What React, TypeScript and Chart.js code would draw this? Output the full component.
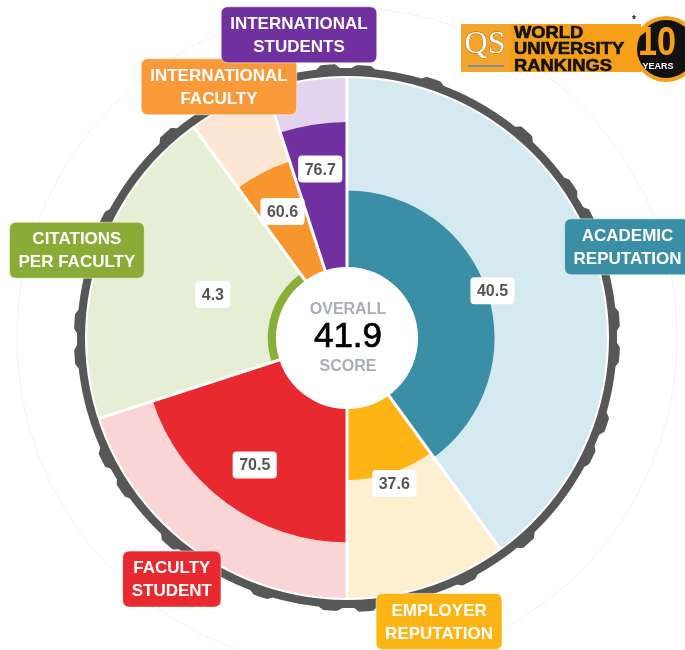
import React, { useEffect, useRef } from 'react';
import { Chart, registerables } from 'chart.js';

Chart.register(...registerables);

// ---------- data ----------
const categoryLines: string[][] = [
  ['ACADEMIC', 'REPUTATION'],
  ['EMPLOYER', 'REPUTATION'],
  ['FACULTY', 'STUDENT'],
  ['CITATIONS', 'PER FACULTY'],
  ['INTERNATIONAL', 'FACULTY'],
  ['INTERNATIONAL', 'STUDENTS'],
];
const categories = categoryLines.map((l) => l.join(' '));
const weights = [40, 10, 20, 20, 5, 5]; // percent of the full circle
const scores = [40.5, 37.6, 70.5, 4.3, 60.6, 76.7];
const fullScores = [100, 100, 100, 100, 100, 100];
const overallScore = '41.9';
const centerTop = 'OVERALL';
const centerBottom = 'SCORE';
const SCALE_MIN = -37.6; // leaves the central hole
const SCALE_MAX = 100;

// ---------- styles ----------
const darkColors = ['#3a8fa7', '#fdb515', '#e8292f', '#8aae3a', '#f7962f', '#7030a0'];
const paleColors = ['#d4eaf0', '#fdf0d0', '#f9d5d6', '#e6efd6', '#fde6d4', '#e3d3ef'];
const tagColors = ['#3a8fa7', '#fdb515', '#e8292f', '#8aab35', '#f9993a', '#7030a0'];
const TAG_DIST = [35, 38, 38, 24, 22, 47];
const VALUE_DIST = [153, 153, 157, 141, 142, 171];
const FONT = "'Liberation Sans', Arial, sans-serif";

function roundRect(ctx: CanvasRenderingContext2D, x: number, y: number, w: number, h: number, r: number) {
  ctx.beginPath();
  ctx.moveTo(x + r, y);
  ctx.lineTo(x + w - r, y);
  ctx.quadraticCurveTo(x + w, y, x + w, y + r);
  ctx.lineTo(x + w, y + h - r);
  ctx.quadraticCurveTo(x + w, y + h, x + w - r, y + h);
  ctx.lineTo(x + r, y + h);
  ctx.quadraticCurveTo(x, y + h, x, y + h - r);
  ctx.lineTo(x, y + r);
  ctx.quadraticCurveTo(x, y, x + r, y);
  ctx.closePath();
}

const BUMPS = [1, 0, 2, 1, 0, 0, 2, 0, 1, 0, 0, 2, 1, 0, 1, 0, 0, 2, 0, 1, 2, 0, 0, 1];

function drawRing(ctx: CanvasRenderingContext2D, cx: number, cy: number, R: number) {
  const rin = R + 2;
  const rout = R + 10;
  const period = 7.5;
  ctx.beginPath();
  for (let i = 0; i <= 1440; i++) {
    const deg = i * 0.25;
    const seg = Math.floor(deg / period);
    const pos = deg - seg * period;
    let r = rout;
    const b = BUMPS[seg % BUMPS.length];
    if (b) {
      const hgt = b === 2 ? 4 : 3;
      if (pos >= 2 && pos <= 5) r += hgt;
      else if (pos > 1 && pos < 2) r += hgt * (pos - 1);
      else if (pos > 5 && pos < 6) r += hgt * (6 - pos);
    }
    const a = (deg * Math.PI) / 180;
    const x = cx + r * Math.cos(a);
    const y = cy + r * Math.sin(a);
    if (i === 0) ctx.moveTo(x, y);
    else ctx.lineTo(x, y);
  }
  ctx.closePath();
  ctx.moveTo(cx + rin, cy);
  ctx.arc(cx, cy, rin, 0, Math.PI * 2, true);
  ctx.closePath();
  ctx.fillStyle = '#575757';
  ctx.fill('evenodd');
}

function drawLogo(ctx: CanvasRenderingContext2D) {
  ctx.save();
  ctx.fillStyle = '#f6a01a';
  ctx.fillRect(461, 24, 180, 48);
  ctx.fillStyle = '#f4a42a';
  ctx.fillRect(461, 24, 49, 48);
  ctx.font = `32px 'Liberation Serif', 'DejaVu Serif', serif`;
  ctx.textAlign = 'center';
  ctx.textBaseline = 'middle';
  ctx.lineWidth = 1;
  ctx.strokeStyle = '#b86a10';
  ctx.strokeText('QS', 485, 45);
  ctx.fillStyle = '#ffffff';
  ctx.fillText('QS', 485, 45);
  ctx.strokeStyle = '#7b8ea0';
  ctx.lineWidth = 2;
  ctx.beginPath();
  ctx.moveTo(468, 66);
  ctx.lineTo(504, 66);
  ctx.stroke();

  ctx.fillStyle = '#111111';
  ctx.textAlign = 'left';
  ctx.textBaseline = 'alphabetic';
  ctx.font = `bold 17px ${FONT}`;
  const lines = ['WORLD', 'UNIVERSITY', 'RANKINGS'];
  const ys = [38, 54, 71];
  lines.forEach((t, i) => {
    ctx.save();
    ctx.translate(514, ys[i]);
    ctx.scale(1.08, 1);
    ctx.fillText(t, 0, 0);
    ctx.strokeStyle = '#111111';
    ctx.lineWidth = 0.6;
    ctx.strokeText(t, 0, 0);
    ctx.restore();
  });

  // 10 years badge
  ctx.beginPath();
  ctx.arc(666, 49, 33, 0, Math.PI * 2);
  ctx.fillStyle = '#f6a01a';
  ctx.fill();
  ctx.beginPath();
  ctx.arc(666, 49, 29, 0, Math.PI * 2);
  ctx.fillStyle = '#111111';
  ctx.fill();
  ctx.textAlign = 'center';
  ctx.textBaseline = 'middle';
  ctx.font = `bold 40px ${FONT}`;
  ctx.fillStyle = '#f6a01a';
  ctx.fillText('10', 657, 44, 38);
  ctx.font = `bold 9px ${FONT}`;
  ctx.fillStyle = '#ffffff';
  ctx.fillText('YEARS', 658, 67);
  ctx.fillStyle = '#111111';
  ctx.font = `bold 10px ${FONT}`;
  ctx.fillText('*', 634, 20);
  ctx.restore();
}

const decorPlugin = {
  id: 'qsDecor',
  afterDatasetsDraw(chart: any) {
    const ctx: CanvasRenderingContext2D = chart.ctx;
    const scale = chart.scales.r;
    const cx = scale.xCenter;
    const cy = scale.yCenter;
    const R = scale.drawingArea;
    const hole = scale.getDistanceFromCenterForValue(0);
    const arcs = chart.getDatasetMeta(1).data;

    ctx.save();
    // faint outer circle
    ctx.strokeStyle = '#f2f2f2';
    ctx.lineWidth = 1;
    ctx.beginPath();
    ctx.arc(cx, cy, 330, 0, Math.PI * 2);
    ctx.stroke();

    // separators
    ctx.strokeStyle = '#ffffff';
    ctx.lineWidth = 3;
    arcs.forEach((a: any) => {
      const s = a.startAngle;
      ctx.beginPath();
      ctx.moveTo(cx, cy);
      ctx.lineTo(cx + (R + 1) * Math.cos(s), cy + (R + 1) * Math.sin(s));
      ctx.stroke();
    });

    // central hole
    ctx.fillStyle = '#ffffff';
    ctx.beginPath();
    ctx.arc(cx, cy, hole, 0, Math.PI * 2);
    ctx.fill();

    // ring
    drawRing(ctx, cx, cy, R);

    // center text
    ctx.textAlign = 'center';
    ctx.textBaseline = 'middle';
    ctx.fillStyle = '#a9aeb6';
    ctx.font = `bold 16px ${FONT}`;
    ctx.fillText(centerTop, cx + 1, cy - 28);
    ctx.fillText(centerBottom, cx + 1, cy + 29);
    ctx.fillStyle = '#000000';
    ctx.font = `35px ${FONT}`;
    ctx.fillText(overallScore, cx + 1, cy - 1);
    ctx.strokeStyle = '#000000';
    ctx.lineWidth = 0.7;
    ctx.strokeText(overallScore, cx + 1, cy - 1);

    // value labels
    arcs.forEach((a: any, i: number) => {
      const mid = (a.startAngle + a.endAngle) / 2;
      const r = VALUE_DIST[i];
      const x = cx + r * Math.cos(mid);
      const y = cy + r * Math.sin(mid);
      const txt = scores[i].toFixed(1);
      ctx.font = `bold 16px ${FONT}`;
      const w = ctx.measureText(txt).width + 13;
      const h = 27;
      ctx.fillStyle = '#ffffff';
      roundRect(ctx, x - w / 2, y - h / 2, w, h, 4);
      ctx.fill();
      ctx.fillStyle = '#555555';
      ctx.fillText(txt, x, y + 1);
    });

    // category tags
    arcs.forEach((a: any, i: number) => {
      const mid = (a.startAngle + a.endAngle) / 2;
      const r = R + TAG_DIST[i];
      const x = cx + r * Math.cos(mid);
      const y = cy + r * Math.sin(mid);
      ctx.font = `bold 17px ${FONT}`;
      const lines = categoryLines[i];
      const tw = Math.max(...lines.map((l) => ctx.measureText(l).width));
      const w = tw + 18;
      const h = 56;
      ctx.fillStyle = tagColors[i];
      roundRect(ctx, x - w / 2, y - h / 2, w, h, 7);
      ctx.fill();
      ctx.strokeStyle = 'rgba(255,255,255,0.5)';
      ctx.lineWidth = 1;
      ctx.stroke();
      ctx.fillStyle = '#ffffff';
      lines.forEach((l, j) => {
        ctx.fillText(l, x, y + (j - 0.5) * 23 + 1);
      });
    });

    drawLogo(ctx);
    ctx.restore();
  },
};

export default function App() {
  const ref = useRef<HTMLCanvasElement | null>(null);
  useEffect(() => {
    if (!ref.current) return;
    const angles = weights.map((w) => w * 3.6);
    const chart = new Chart(ref.current, {
      type: 'polarArea',
      data: {
        labels: categories,
        datasets: [
          { data: scores, backgroundColor: darkColors, borderWidth: 0, angle: angles } as any,
          { data: fullScores, backgroundColor: paleColors, borderWidth: 0, angle: angles } as any,
        ],
      },
      options: {
        responsive: false,
        animation: false,
        devicePixelRatio: 1,
        events: [],
        layout: { padding: { left: 87, right: 78, top: 78, bottom: 52 } },
        plugins: { legend: { display: false }, tooltip: { enabled: false } },
        scales: {
          r: {
            min: SCALE_MIN,
            max: SCALE_MAX,
            ticks: { display: false },
            grid: { display: false },
            angleLines: { display: false },
            pointLabels: { display: false },
          },
        },
      } as any,
      plugins: [decorPlugin],
    });
    return () => chart.destroy();
  }, []);
  return (
    <div style={{ position: 'absolute', left: 0, top: 0, width: 685, height: 650, background: '#fff' }}>
      <canvas ref={ref} width={685} height={650} style={{ display: 'block' }} />
    </div>
  );
}
